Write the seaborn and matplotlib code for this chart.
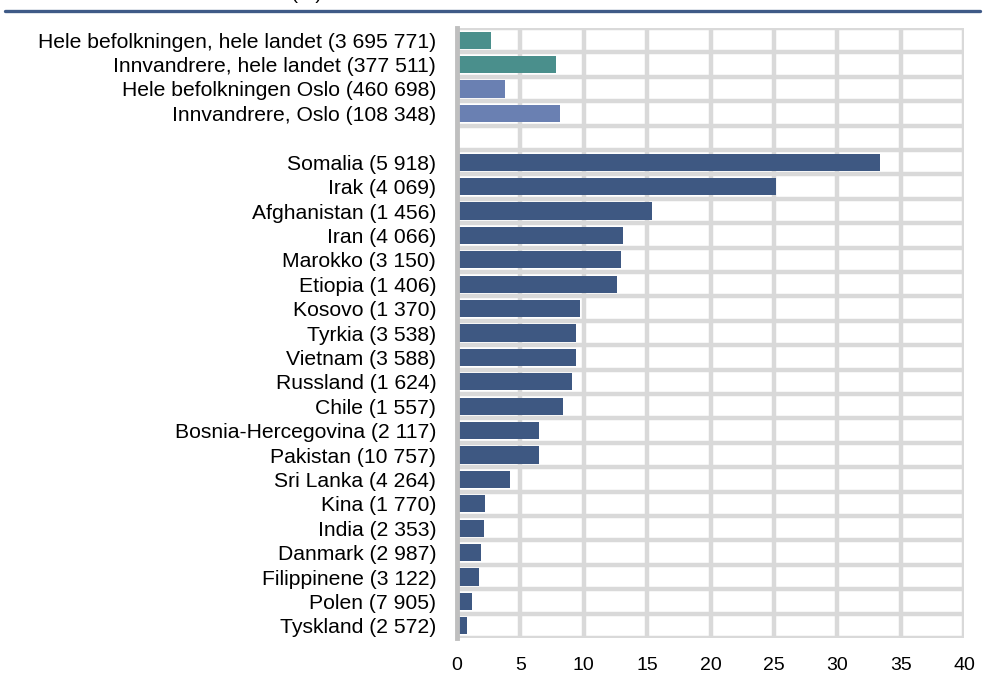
import matplotlib
matplotlib.use("Agg")
import matplotlib.pyplot as plt
import seaborn as sns
import pandas as pd
import numpy as np

labels = [
    "Hele befolkningen, hele landet (3 695 771)",
    "Innvandrere, hele landet (377 511)",
    "Hele befolkningen Oslo (460 698)",
    "Innvandrere, Oslo (108 348)",
    " ",
    "Somalia (5 918)",
    "Irak (4 069)",
    "Afghanistan (1 456)",
    "Iran (4 066)",
    "Marokko (3 150)",
    "Etiopia (1 406)",
    "Kosovo (1 370)",
    "Tyrkia (3 538)",
    "Vietnam (3 588)",
    "Russland (1 624)",
    "Chile (1 557)",
    "Bosnia-Hercegovina (2 117)",
    "Pakistan (10 757)",
    "Sri Lanka (4 264)",
    "Kina (1 770)",
    "India (2 353)",
    "Danmark (2 987)",
    "Filippinene (3 122)",
    "Polen (7 905)",
    "Tyskland (2 572)",
]
values = [2.7, 7.8, 3.8, 8.1, 0.0,
          33.4, 25.2, 15.4, 13.1, 12.9, 12.6, 9.7, 9.4, 9.4, 9.1, 8.4,
          6.5, 6.5, 4.2, 2.2, 2.1, 1.9, 1.7, 1.2, 0.8]
groups = ["land"] * 2 + ["oslo"] * 2 + ["blank"] + ["country"] * 20
group_colors = {"land": "#4a8f8c", "oslo": "#6a80b2", "blank": "#ffffff", "country": "#3e5882"}
xticks = [0, 5, 10, 15, 20, 25, 30, 35, 40]

df = pd.DataFrame({"label": labels, "value": values, "group": groups})

sns.set_theme(style="white")
plt.rcParams["font.family"] = ["Liberation Sans", "DejaVu Sans"]

fig = plt.figure(figsize=(9.85, 6.75), dpi=100)
ax = fig.add_axes([457 / 985, 1 - 638 / 675, (964 - 457) / 985, (638 - 28) / 675])

sns.barplot(data=df, y="label", x="value", hue="group", palette=group_colors,
            order=labels, dodge=False, width=0.7, linewidth=0, legend=False,
            saturation=1, orient="h", ax=ax)

n = len(labels)
ax.set_xlim(0, 40)
ax.set_ylim(n - 0.5, -0.5)
ax.set_xticks(xticks)
ax.set_xticklabels([str(t) for t in xticks], fontsize=14, color="black")
ax.set_yticks(range(n))
ax.set_yticklabels(labels, fontsize=15.2, color="black")
ax.set_xlabel("")
ax.set_ylabel("")
ax.tick_params(axis="both", which="both", length=0)
ax.tick_params(axis="x", pad=14)
ax.tick_params(axis="y", pad=15)

ax.grid(False)
for t in xticks[1:]:
    ax.axvline(t, color="#d9d9d9", lw=3.2, zorder=0)
for yv in np.arange(-0.5, n, 1.0):
    ax.axhline(yv, color="#d9d9d9", lw=3.2, zorder=0)
for s in ["top", "right", "bottom"]:
    ax.spines[s].set_visible(False)
ax.spines["left"].set_color("#bfbfbf")
ax.spines["left"].set_linewidth(3.5)
ax.spines["left"].set_zorder(5)
for p in ax.patches:
    p.set_zorder(3)

# header rule
fig.add_artist(plt.Line2D([5 / 985, 980 / 985], [1 - 11 / 675, 1 - 11 / 675],
                          color="#3f5a87", lw=2.4, transform=fig.transFigure))
fig.text(322 / 985, 1 + 1 / 675, "Andel med lavinntekt. Prosent (%)", ha="right", va="baseline",
         fontsize=14, color="black")

fig.savefig("out.png", dpi=100)
